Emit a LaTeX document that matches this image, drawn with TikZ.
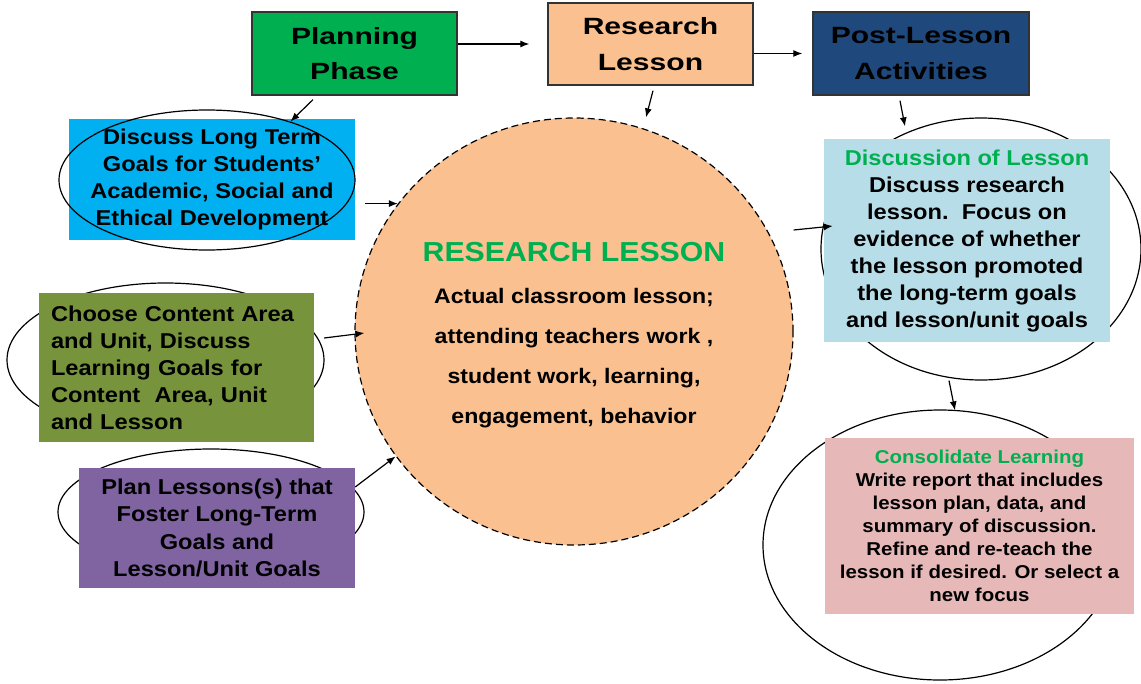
\documentclass[tikz,border=0pt]{standalone}
\usepackage{fontspec}
\setmainfont{Liberation Sans}[FakeStretch=1.1]
\newfontfamily\phasefont{Liberation Sans}[FakeStretch=1.28]
\usepackage{tikz}
\usetikzlibrary{shapes.geometric,arrows.meta}
\definecolor{phasegreen}{RGB}{0,176,80}
\definecolor{peach}{RGB}{250,192,144}
\definecolor{postblue}{RGB}{31,73,125}
\definecolor{skyblue}{RGB}{0,176,240}
\definecolor{olive}{RGB}{119,147,60}
\definecolor{lavender}{RGB}{128,100,162}
\definecolor{paleblue}{RGB}{183,222,232}
\definecolor{rosepink}{RGB}{230,185,184}
\tikzset{
  phasebox/.style = {rectangle, draw=black!80, line width=1.3pt, align=center,
    inner sep=0pt, minimum height=83pt,
    font=\phasefont\bfseries\fontsize{23.5}{35.5}\selectfont},% top row
  stepbox/.style = {rectangle, inner sep=0pt, align=center,
    font=\bfseries\fontsize{21.5}{27}\selectfont},% coloured text box
  ring/.style = {ellipse, draw=black, line width=1.2pt, inner sep=0pt},% oval behind a box
  flow/.style = {-{Latex[length=9pt,width=7pt]}, line width=1.2pt}
}

\begin{document}
\begin{tikzpicture}[x=1pt,y=-1pt]
    \useasboundingbox (0,0) rectangle (1141,683);
    % ovals that sit behind their boxes
    \node [ring, minimum width=317pt, minimum height=154pt] (choosering) at (165.5,360) {};
    \node [ring, minimum width=306pt, minimum height=126pt] (plansring) at (211,512) {};
    \node [ring, minimum width=320pt, minimum height=262pt] (discring) at (981,249) {};
    \node [ring, minimum width=354pt, minimum height=270pt] (consring) at (940,545) {};
    % the research lesson itself
    \node [ellipse, draw=black, line width=1.2pt, dash pattern=on 7pt off 4pt,
        fill=peach, inner sep=0pt, minimum width=438pt, minimum height=427pt] (rlcircle) at (574,331.5) {};
    \node [align=center, inner sep=0pt, font=\bfseries\fontsize{21}{40}\selectfont] (rltext) at (574,335)
        {\textcolor{phasegreen}{\fontsize{27.5}{40}\selectfont RESEARCH LESSON}\\[1.6pt]
         Actual classroom lesson;\\attending teachers work ,\\student work, learning,\\engagement, behavior};
    % top row
    \node [phasebox, fill=phasegreen, minimum width=205pt] (plan) at (354.5,53.5) {Planning\\Phase};
    \node [phasebox, fill=peach, minimum width=205pt, minimum height=82pt] (rlesson) at (650.5,44) {Research\\Lesson};
    \node [phasebox, fill=postblue, minimum width=216pt] (post) at (921,53.5) {Post-Lesson\\Activities};
    % planning phase
    \node [stepbox, fill=skyblue, minimum width=286pt, minimum height=121pt] (goals) at (212,179.5)
        {Discuss Long Term\\Goals for Students’\\Academic, Social and\\Ethical Development};
    \node [ring, minimum width=296pt, minimum height=140pt] (goalsring) at (207,180) {};
    \node [stepbox, fill=olive, minimum width=275pt, minimum height=149pt, align=left, text width=251pt] (choose) at (176.5,367.5)
        {Choose Content Area\\and Unit, Discuss\\Learning Goals for\\Content\ \ Area, Unit\\and Lesson};
    \node [stepbox, fill=lavender, minimum width=276pt, minimum height=120pt,
        font=\bfseries\fontsize{21.5}{27.5}\selectfont] (plans) at (217,528)
        {Plan Lessons(s) that\\Foster Long-Term\\Goals and\\Lesson/Unit Goals};
    % post-lesson activities
    \node [stepbox, fill=paleblue, minimum width=286pt, minimum height=203pt] (disc) at (967,240.5)
        {\textcolor{phasegreen}{Discussion of Lesson}\\Discuss research\\lesson.\ \ Focus on\\evidence of whether\\the lesson promoted\\the long-term goals\\and lesson/unit goals};
    \node [stepbox, fill=rosepink, minimum width=309pt, minimum height=176pt,
        font=\bfseries\fontsize{18.6}{23}\selectfont] (cons) at (979.5,526)
        {\textcolor{phasegreen}{Consolidate Learning}\\Write report that includes\\lesson plan, data, and\\summary of discussion.\\Refine and re-teach the\\lesson if desired. Or select a\\new focus};
    % arrows
    \draw [flow, shorten >=18pt] (plan.east |- rlesson.west) -- (rlesson.west);
    \draw [flow, shorten >=10pt] (rlesson.east |- post.west) -- (post.west);
    \draw [flow] ([xshift=-41.5pt,yshift=-4pt]plan.south) -- (goalsring.35);
    \draw [flow] ([xshift=2.5pt,yshift=-5pt]rlesson.south) -- ([xshift=72pt]rlcircle.north);
    \draw [flow] ([xshift=-21pt,yshift=-5pt]post.south) -- ([xshift=-76pt,yshift=-9pt]discring.north);
    \draw [flow, shorten <=10pt] (goals.east |- rlcircle.144) -- (rlcircle.144);
    \draw [flow] ([xshift=10pt,yshift=29.5pt]choose.east) -- ([xshift=10pt,yshift=-1.5pt]rlcircle.west);
    \draw [flow] ([yshift=41pt]plans.east) -- (rlcircle.215);
    \draw [flow] ([yshift=101.5pt]rlcircle.east) -- ([xshift=9pt,yshift=14.5pt]disc.west);
    \draw [flow] ([xshift=-32pt]discring.south) -- ([xshift=15pt,yshift=-1pt]consring.north);
\end{tikzpicture}
\end{document}
